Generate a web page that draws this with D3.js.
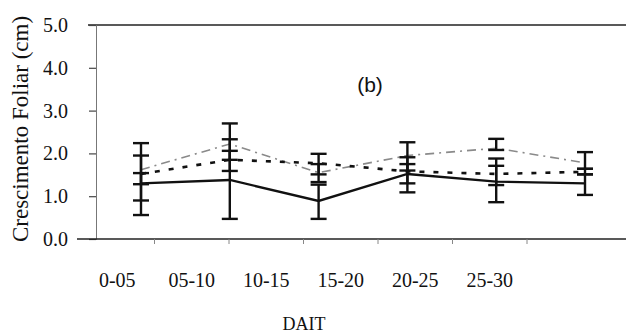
<!DOCTYPE html>
<html>
<head>
<meta charset="utf-8">
<script src="https://cdn.jsdelivr.net/npm/d3@7"></script>
<style>
  html, body { margin: 0; padding: 0; background: #ffffff; }
  svg { display: block; }
  text { font-family: "Liberation Serif", "Times New Roman", serif; fill: #111; }
</style>
</head>
<body>
<svg id="chart" width="626" height="336"></svg>
<script>
// Period of days after transplanting (DAIT)
const categories = ["0-05", "05-10", "10-15", "15-20", "20-25", "25-30"];
const yTicks = [0, 1, 2, 3, 4, 5];

// Mean leaf growth (cm) for each treatment
const solidMean  = [1.30, 1.38, 0.89, 1.52, 1.34, 1.30];
const dashedMean = [1.52, 1.85, 1.77, 1.58, 1.52, 1.57];
const greyMean   = [1.62, 2.22, 1.55, 1.95, 2.12, 1.78];

// Error bar limits (cm)
const solidLow   = [0.56, 0.47, 0.47, 1.09, 0.86, 1.03];
const solidHigh  = [2.24, 2.70, 1.27, 1.91, 1.88, 1.51];
const dashedLow  = [0.90, 1.59, 1.51, 1.30, 1.26, 1.51];
const dashedHigh = [1.54, 2.06, 1.99, 1.75, 1.71, 1.64];
const greyLow    = [1.28, 1.85, 1.33, 1.60, 2.08, 1.64];
const greyHigh   = [1.95, 2.33, 1.75, 2.26, 2.34, 2.03];

const svg = d3.select("#chart");

const y = d3.scaleLinear().domain([0, 5]).range([239, 25]);
// category bands used for the axis labels and ticks
const xBand = d3.scaleBand().domain(categories).range([80, 527]).padding(0);
// positions of the measured points
const xPoint = d3.scalePoint().domain(categories).range([141, 585]);

// top border line at 5.0
svg.append("line")
  .attr("x1", 88).attr("x2", 626)
  .attr("y1", y(5)).attr("y2", y(5))
  .attr("stroke", "#222").attr("stroke-width", 1.6);

// y axis
const yAxis = d3.axisLeft(y)
  .tickValues(yTicks)
  .tickFormat(d3.format(".1f"))
  .tickSize(7)
  .tickPadding(21);
const gy = svg.append("g").attr("transform", "translate(96,0)").call(yAxis);
gy.select(".domain").attr("stroke", "#777").attr("stroke-width", 1);
gy.selectAll(".tick line").attr("stroke", "#444").attr("stroke-width", 1.2);
gy.selectAll(".tick text")
  .style("font-family", "'Liberation Serif', serif")
  .style("font-size", "20px")
  .attr("fill", "#111");

// x axis line
svg.append("line")
  .attr("x1", 77).attr("x2", 626)
  .attr("y1", y(0)).attr("y2", y(0))
  .attr("stroke", "#222").attr("stroke-width", 1.6);

// x ticks at band boundaries
svg.append("g").selectAll("line")
  .data(categories)
  .join("line")
  .attr("x1", d => xBand(d) + xBand.bandwidth())
  .attr("x2", d => xBand(d) + xBand.bandwidth())
  .attr("y1", y(0)).attr("y2", y(0) + 5)
  .attr("stroke", "#888").attr("stroke-width", 1);

// x tick labels
svg.append("g").selectAll("text")
  .data(categories)
  .join("text")
  .attr("x", d => xBand(d) + xBand.bandwidth() / 2)
  .attr("y", 287)
  .attr("text-anchor", "middle")
  .style("font-size", "20px")
  .text(d => d);

// axis titles
svg.append("text")
  .attr("x", 304).attr("y", 330)
  .attr("text-anchor", "middle")
  .style("font-size", "18px")
  .text("DAIT");

svg.append("text")
  .attr("transform", "translate(28,129) rotate(-90)")
  .attr("text-anchor", "middle")
  .style("font-size", "23px")
  .text("Crescimento Foliar (cm)");

// panel label
svg.append("text")
  .attr("x", 370).attr("y", 92)
  .attr("text-anchor", "middle")
  .style("font-family", "'Liberation Sans', Arial, sans-serif")
  .style("font-size", "21px")
  .text("(b)");

// series
const series = [
  { mean: greyMean,   low: greyLow,   high: greyHigh,   stroke: "#8a8a8a", width: 1.6, dash: "9,5,2,5" },
  { mean: dashedMean, low: dashedLow, high: dashedHigh, stroke: "#111",    width: 2.6, dash: "5,9" },
  { mean: solidMean,  low: solidLow,  high: solidHigh,  stroke: "#111",    width: 2.4, dash: null }
];

const line = d3.line()
  .x((d, i) => xPoint(categories[i]))
  .y(d => y(d));

series.forEach(s => {
  svg.append("path")
    .datum(s.mean)
    .attr("fill", "none")
    .attr("stroke", s.stroke)
    .attr("stroke-width", s.width)
    .attr("stroke-dasharray", s.dash)
    .attr("d", line);
});

// error bars, all drawn in black
const capHalf = 8;
series.forEach(s => {
  const g = svg.append("g");
  categories.forEach((c, i) => {
    const cx = xPoint(c);
    g.append("line")
      .attr("x1", cx).attr("x2", cx)
      .attr("y1", y(s.low[i])).attr("y2", y(s.high[i]))
      .attr("stroke", "#111").attr("stroke-width", 2.4);
    [s.low[i], s.high[i]].forEach(v => {
      g.append("line")
        .attr("x1", cx - capHalf).attr("x2", cx + capHalf)
        .attr("y1", y(v)).attr("y2", y(v))
        .attr("stroke", "#111").attr("stroke-width", 2.4);
    });
  });
});
</script>
</body>
</html>
